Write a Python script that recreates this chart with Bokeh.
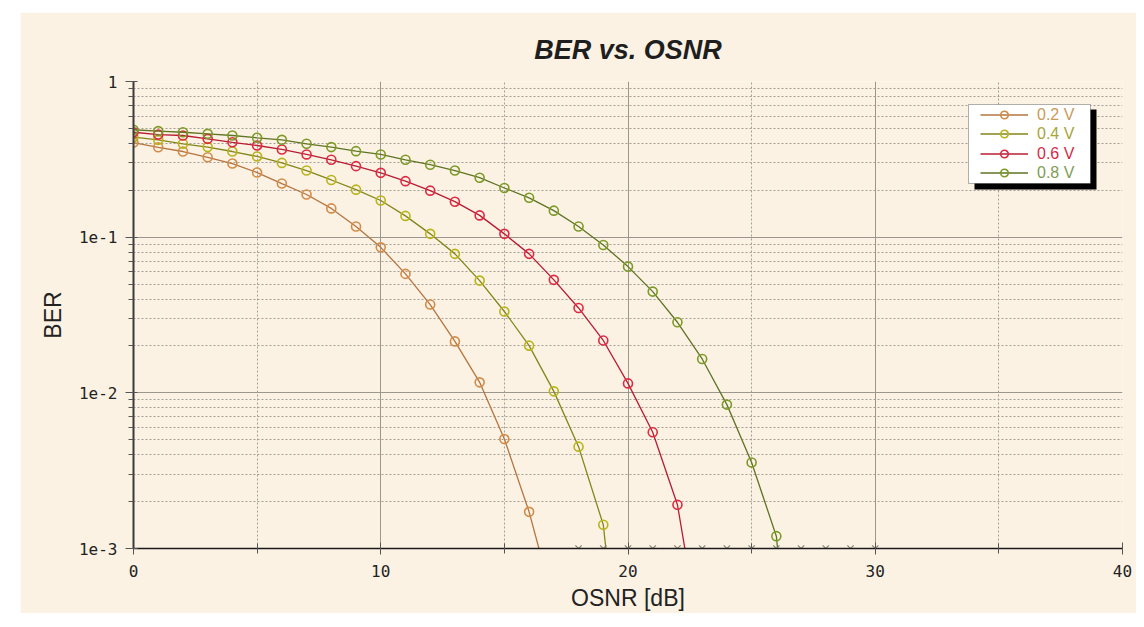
from bokeh.plotting import figure
from bokeh.models import (Range1d, FixedTicker, CustomJSTickFormatter, Grid,
                          Legend, LegendItem, BoxAnnotation)
from bokeh.embed import file_html
from bokeh.resources import INLINE

# ---------------- data ----------------
series_labels = ["0.2 V", "0.4 V", "0.6 V", "0.8 V"]

osnr_02 = list(range(0, 18))
ber_02 = [0.405, 0.378, 0.355, 0.326, 0.297, 0.260, 0.221, 0.188, 0.153, 0.117,
          0.086, 0.0581, 0.0369, 0.0214, 0.01168, 0.00505, 0.00172, 0.00044]

osnr_04 = list(range(0, 21))
ber_04 = [0.439, 0.422, 0.398, 0.379, 0.355, 0.330, 0.300, 0.268, 0.233, 0.202,
          0.172, 0.137, 0.105, 0.0781, 0.0526, 0.0333, 0.0201, 0.01022, 0.00451,
          0.00142, 0.00005]

osnr_06 = list(range(0, 24))
ber_06 = [0.472, 0.456, 0.450, 0.428, 0.407, 0.388, 0.366, 0.340, 0.314, 0.286,
          0.259, 0.229, 0.199, 0.169, 0.138, 0.105, 0.0781, 0.0532, 0.0351,
          0.0217, 0.0115, 0.00558, 0.00191, 0.00022]

osnr_08 = list(range(0, 28))
ber_08 = [0.490, 0.480, 0.472, 0.461, 0.450, 0.435, 0.422, 0.398, 0.379, 0.357,
          0.340, 0.314, 0.292, 0.268, 0.241, 0.207, 0.179, 0.148, 0.117, 0.089,
          0.0647, 0.0447, 0.0284, 0.0165, 0.0084, 0.00357, 0.0012, 0.00003]

# OSNR values where BER is zero (drawn on the bottom axis)
osnr_zero = [18, 19, 20, 21, 22, 23, 24, 25, 26, 27, 28, 29, 30]

x_ticks = [0, 10, 20, 30, 40]
x_minor = [5, 15, 25, 35]
y_ticks = [1e-3, 1e-2, 1e-1, 1.0]
y_minor = [m * d for d in (1e-3, 1e-2, 1e-1) for m in range(2, 10)]

# ---------------- styles ----------------
cream = "#FBF2E4"
line_colors = ["#b57440", "#84851a", "#b81c34", "#5f7424"]
marker_colors = ["#d38c48", "#b8b41a", "#de2a42", "#7c9a26"]
text_colors = ["#c99a5a", "#a9a43a", "#d42a48", "#7f9c52"]

p = figure(x_range=Range1d(0, 40), y_range=Range1d(1e-3, 1.0), y_axis_type="log",
           frame_width=989, frame_height=467,
           min_border_left=113, min_border_right=14, min_border_top=69,
           min_border_bottom=55,
           output_backend="svg", toolbar_location=None,
           background_fill_color=cream, border_fill_color=cream,
           outline_line_color=None)
p.margin = (12, 0, 0, 20)

# title
p.title.text = "BER vs. OSNR"
p.title.align = "center"
p.title.text_font = "Liberation Sans"
p.title.text_font_style = "bold italic"
p.title.text_font_size = "27px"
p.title.text_color = "#1e1e1e"
p.title.standoff = 33

# axes
xt = FixedTicker(ticks=x_ticks, minor_ticks=x_minor)
yt = FixedTicker(ticks=y_ticks, minor_ticks=y_minor)
p.xaxis.ticker = xt
p.yaxis.ticker = yt
p.yaxis.formatter = CustomJSTickFormatter(
    code="return tick >= 1 ? '1' : '1e' + Math.round(Math.log10(tick));")

for ax in (p.xaxis[0], p.yaxis[0]):
    ax.major_label_text_font = "DejaVu Sans Mono"
    ax.major_label_text_font_size = "16px"
    ax.major_label_text_color = "#222222"
    ax.axis_label_text_font = "Liberation Sans"
    ax.axis_label_text_font_size = "23px"
    ax.axis_label_text_font_style = "normal"
    ax.axis_label_text_color = "#222222"
    ax.major_tick_line_color = "#555555"
    ax.minor_tick_line_color = "#555555"

p.xaxis.axis_label = "OSNR [dB]"
p.yaxis.axis_label = "BER"
p.xaxis.axis_line_color = "#1a1a1a"
p.xaxis.axis_line_width = 1.5
p.yaxis.axis_line_color = "#3a3a3a"
p.yaxis.axis_line_width = 2
p.xaxis.major_tick_in = 6
p.xaxis.major_tick_out = 6
p.xaxis.minor_tick_in = 5
p.xaxis.minor_tick_out = 5
p.xaxis.major_label_standoff = 10
p.xaxis.axis_label_standoff = 5
p.yaxis.major_tick_in = 4
p.yaxis.major_tick_out = 8
p.yaxis.minor_tick_in = 0
p.yaxis.minor_tick_out = 5
p.yaxis.major_label_standoff = 8
p.yaxis.axis_label_standoff = 10

# grids
p.xgrid.ticker = FixedTicker(ticks=x_ticks[1:])
p.xgrid.grid_line_color = "#9c978e"
p.xgrid.grid_line_width = 1
p.add_layout(Grid(dimension=0, ticker=FixedTicker(ticks=x_minor),
                  grid_line_color="#a49f96", grid_line_dash="2 2"))
p.ygrid.ticker = yt
p.ygrid.grid_line_color = "#9c978e"
p.ygrid.minor_grid_line_color = "#a49f96"
p.ygrid.minor_grid_line_dash = "2 2"

# series
xs = [osnr_02, osnr_04, osnr_06, osnr_08]
ys = [ber_02, ber_04, ber_06, ber_08]
renderers = []
for x, y, lc, mc in zip(xs, ys, line_colors, marker_colors):
    lr = p.line(x, y, line_color=lc, line_width=1.3)
    sr = p.scatter(x, y, marker="circle", size=9, fill_color=None,
                   line_color=mc, line_width=1.6)
    renderers.append((lr, sr))

# zero-BER markers on the axis floor
y_floor = p.y_range.start
p.scatter(osnr_zero, [y_floor] * len(osnr_zero), marker="x", size=9,
          line_color="#8a8478", line_width=1.2)

# legend box with shadow (screen units relative to frame)
shadow = BoxAnnotation(left=841, right=963, top=439, bottom=359,
                       left_units="screen", right_units="screen",
                       top_units="screen", bottom_units="screen",
                       fill_color="black", fill_alpha=1.0, line_color=None)
box = BoxAnnotation(left=835, right=957, top=444, bottom=365,
                    left_units="screen", right_units="screen",
                    top_units="screen", bottom_units="screen",
                    fill_color="white", fill_alpha=1.0, line_color="black",
                    line_width=1)
p.add_layout(shadow)
p.add_layout(box)

entry_bottoms = [424, 405, 385, 366]
for lbl, (lr, sr), tc, yb in zip(series_labels, renderers, text_colors, entry_bottoms):
    leg = Legend(items=[LegendItem(label=lbl, renderers=[lr, sr])],
                 location=(847, yb), padding=0, margin=0, spacing=0,
                 border_line_color=None, background_fill_alpha=0,
                 glyph_width=48, glyph_height=19, label_height=19,
                 label_standoff=9, label_text_font="Liberation Sans",
                 label_text_font_size="16px", label_text_color=tc)
    p.add_layout(leg)

open("out.html", "w").write(file_html(p, INLINE))
